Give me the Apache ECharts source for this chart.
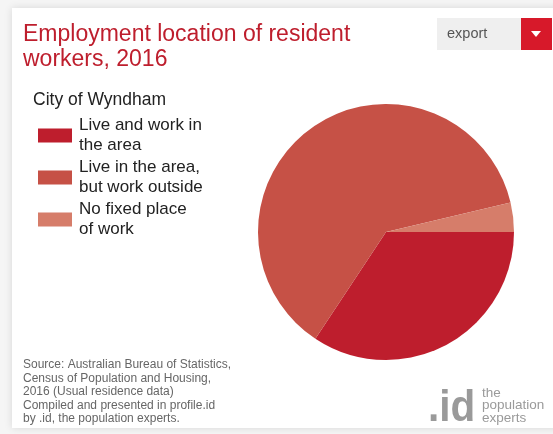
<!DOCTYPE html>
<html>
<head>
<meta charset="utf-8">
<script src="https://cdn.jsdelivr.net/npm/echarts@6/dist/echarts.min.js"></script>
<style>
  html, body { margin: 0; padding: 0; background: #f5f5f5; }
  #chart { width: 553px; height: 434px; }
</style>
</head>
<body>
<div id="chart"></div>
<script>
// data (share of resident workers, %)
var categories = ['Live and work in the area', 'Live in the area, but work outside', 'No fixed place of work'];
var legendLabels = ['Live and work in\nthe area', 'Live in the area,\nbut work outside', 'No fixed place\nof work'];
var shares = [34.3, 62.0, 3.7];
var colors = ['#BE1E2D', '#C65146', '#D67D6A'];

var sourceLines = [
    'Source: Australian Bureau of Statistics,',
    'Census of Population and Housing,',
    '2016 (Usual residence data)',
    'Compiled and presented in profile.id',
    'by .id, the population experts.'
];

var chart = echarts.init(document.getElementById('chart'));

var pieData = [];
for (var i = 0; i < categories.length; i++) {
    pieData.push({ name: categories[i], value: shares[i] });
}

var font = 'Liberation Sans, Arial, sans-serif';

var option = {
    backgroundColor: '#f5f5f5',
    color: colors,
    animation: false,
    textStyle: { fontFamily: font },
    graphic: [
        // card
        {
            type: 'rect', z: -10,
            shape: { x: 12, y: 8, width: 560, height: 420 },
            style: { fill: '#fff', shadowBlur: 8, shadowColor: 'rgba(0,0,0,0.12)' }
        },
        // export button
        {
            type: 'rect',
            shape: { x: 437, y: 18, width: 85, height: 32 },
            style: { fill: '#efefef' }
        },
        {
            type: 'text', left: 447, top: 26,
            style: { text: 'export', fontSize: 14.5, fill: '#555', fontFamily: font }
        },
        {
            type: 'rect',
            shape: { x: 521, y: 18, width: 31, height: 32 },
            style: { fill: '#D7192A' }
        },
        {
            type: 'polygon',
            shape: { points: [[531, 31], [541, 31], [536, 37]] },
            style: { fill: '#fff' }
        },
        // legend heading
        {
            type: 'text', left: 33, top: 91,
            style: { text: 'City of Wyndham', fontSize: 17.5, fill: '#222', fontFamily: font }
        },
        // source note
        {
            type: 'text', left: 23, top: 358,
            style: {
                text: sourceLines.join('\n'), fontSize: 12, lineHeight: 13.5,
                fill: '#666', fontFamily: font
            }
        },
        // logo
        {
            type: 'text', left: 428, top: 387, scaleX: 0.92,
            style: { text: '.id', fontSize: 44, fontWeight: 'bold', fill: '#9a9a9a', fontFamily: font }
        },
        {
            type: 'text', left: 482, top: 386,
            style: {
                text: 'the\npopulation\nexperts', fontSize: 13.5, lineHeight: 12.5,
                fill: '#9a9a9a', fontFamily: font
            }
        }
    ],
    title: {
        text: 'Employment location of resident\nworkers, 2016',
        left: 18,
        top: 17,
        textStyle: { fontSize: 23, lineHeight: 25, fontWeight: 'normal', color: '#BE1E2D' }
    },
    legend: {
        orient: 'vertical',
        left: 33,
        top: 111,
        itemWidth: 34,
        itemHeight: 14,
        itemGap: 3,
        icon: 'rect',
        selectedMode: false,
        data: categories,
        formatter: function (name) {
            return legendLabels[categories.indexOf(name)];
        },
        textStyle: { fontSize: 17, lineHeight: 19.5, color: '#222', padding: [0, 0, 0, 2] }
    },
    series: [
        {
            type: 'pie',
            center: [386, 232],
            radius: 128,
            startAngle: 0,
            clockwise: true,
            silent: true,
            label: { show: false },
            labelLine: { show: false },
            itemStyle: { borderWidth: 0 },
            data: pieData
        }
    ]
};

chart.setOption(option);
</script>
</body>
</html>
